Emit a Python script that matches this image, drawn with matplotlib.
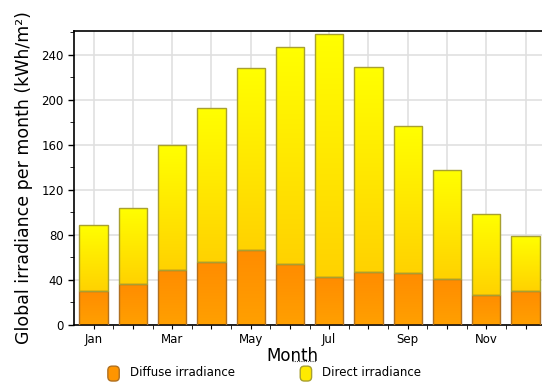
import matplotlib
matplotlib.use("Agg")
import matplotlib.pyplot as plt
import numpy as np
from matplotlib.patches import Patch, FancyBboxPatch
from matplotlib.colors import LinearSegmentedColormap
from matplotlib.legend_handler import HandlerPatch
from matplotlib.lines import Line2D

months = ["Jan", "Feb", "Mar", "Apr", "May", "Jun", "Jul", "Aug", "Sep", "Oct", "Nov", "Dec"]
tick_labels = ["Jan", "", "Mar", "", "May", "", "Jul", "", "Sep", "", "Nov", ""]
diffuse = [30, 36, 49, 56, 67, 54, 43, 47, 46, 41, 27, 30]
total = [89, 104, 160, 193, 228, 247, 258, 229, 177, 138, 99, 79]
direct = [t - d for t, d in zip(total, diffuse)]

fig = plt.figure(figsize=(5.42, 3.83), dpi=100)
ax = fig.add_axes([0.1365, 0.1514, 0.8635, 0.7676])

x = np.arange(len(months))
w = 0.72
yellow_cmap = LinearSegmentedColormap.from_list("y", ["#FFD200", "#FFFF00"])
orange_cmap = LinearSegmentedColormap.from_list("o", ["#FFA000", "#FF8C00"])
grad = np.linspace(0, 1, 100).reshape(-1, 1)

b1 = ax.bar(x, diffuse, w, facecolor="none", edgecolor="#B07020", linewidth=1.0, zorder=3)
b2 = ax.bar(x, direct, w, bottom=diffuse, facecolor="none", edgecolor="#A8A030", linewidth=1.0, zorder=3)
for bars, cmap in ((b1, orange_cmap), (b2, yellow_cmap)):
    for r in bars:
        x0, y0 = r.get_x(), r.get_y()
        im = ax.imshow(grad, cmap=cmap, origin="lower", aspect="auto",
                       extent=[x0, x0 + r.get_width(), y0, y0 + r.get_height()], zorder=2)
        im.set_clip_path(r)

ax.set_xlim(-0.5, 11.42)
ax.set_ylim(0, 261)
ax.set_xticks(x)
ax.set_xticklabels(tick_labels, fontsize=8.5)
ax.set_xticks(x[:-1] + 0.5, minor=True)
ax.set_yticks(np.arange(0, 241, 40))
ax.set_yticks(np.arange(20, 261, 40), minor=True)
ax.tick_params(axis="y", labelsize=8.5, length=4, width=1)
ax.tick_params(axis="y", which="minor", length=3)
ax.tick_params(axis="x", length=3, pad=3)
ax.tick_params(axis="x", which="minor", length=3)
ax.grid(True, which="major", color="#e0e0e0", linewidth=1.2, zorder=0)
ax.set_axisbelow(True)
ax.spines["right"].set_visible(False)
for s in ("left", "top", "bottom"):
    ax.spines[s].set_linewidth(1.2)

ax.set_xlabel("Month", fontsize=12, labelpad=0)
ax.xaxis.set_label_coords(0.467, -0.075)
ax.set_ylabel("Global irradiance per month (kWh/m²)", fontsize=12.5, labelpad=6)
fig.add_artist(Line2D([292 / 542, 316 / 542], [1 - 361 / 383, 1 - 361 / 383], transform=fig.transFigure,
                      color="#444444", linewidth=0.8, linestyle=(0, (1, 1))))

class RoundHandler(HandlerPatch):
    def create_artists(self, legend, orig_handle, xdescent, ydescent, width, height, fontsize, trans):
        p = FancyBboxPatch((-xdescent + 1, -ydescent - 2), width - 2, height + 2,
                           boxstyle="round,pad=0,rounding_size=3",
                           facecolor=orig_handle.get_facecolor(), edgecolor=orig_handle.get_edgecolor(),
                           linewidth=1.0, transform=trans)
        return [p]

handles = [Patch(facecolor="#FF9500", edgecolor="#B07020", label="Diffuse irradiance"),
           Patch(facecolor="#FFEA00", edgecolor="#A8A030", label="Direct irradiance")]
fig.legend(handles=handles, loc="center", bbox_to_anchor=(0.487, 0.027), ncol=2, frameon=False,
           fontsize=8.5, handlelength=1.2, handleheight=1.2, columnspacing=5.4,
           handler_map={Patch: RoundHandler()})

fig.savefig("out.png", dpi=100)
